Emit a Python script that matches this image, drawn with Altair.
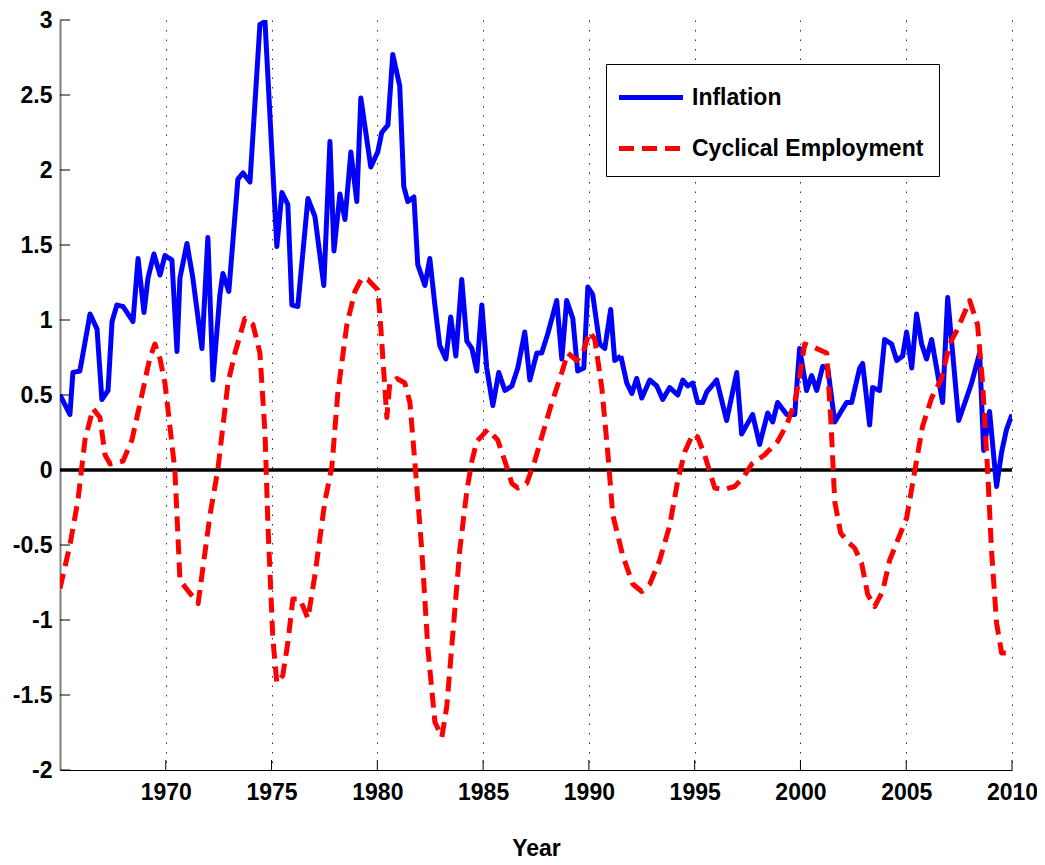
import altair as alt
import pandas as pd

# ---------------- data ----------------
series_names = ["Inflation", "Cyclical Employment"]

infl_years = [1965.00, 1965.47, 1965.61, 1965.94, 1966.42, 1966.75, 1966.98, 1967.27, 1967.46, 1967.69,
              1967.98, 1968.45, 1968.69, 1968.97, 1969.16, 1969.44, 1969.73, 1969.96, 1970.29, 1970.53,
              1970.67, 1971.00, 1971.28, 1971.71, 1971.99, 1972.23, 1972.56, 1972.70, 1972.98, 1973.41,
              1973.65, 1973.98, 1974.45, 1974.69, 1975.25, 1975.49, 1975.77, 1975.96, 1976.24, 1976.72,
              1977.05, 1977.47, 1977.76, 1977.95, 1978.23, 1978.47, 1978.75, 1979.03, 1979.22, 1979.69,
              1980.02, 1980.21, 1980.50, 1980.73, 1981.06, 1981.25, 1981.44, 1981.73, 1981.91, 1982.25,
              1982.48, 1982.72, 1982.95, 1983.24, 1983.47, 1983.71, 1983.99, 1984.23, 1984.47, 1984.70,
              1984.94, 1985.17, 1985.46, 1985.74, 1986.03, 1986.36, 1986.64, 1986.97, 1987.21, 1987.54,
              1987.77, 1988.06, 1988.48, 1988.72, 1988.95, 1989.24, 1989.47, 1989.76, 1989.95, 1990.18,
              1990.51, 1990.75, 1991.03, 1991.22, 1991.51, 1991.79, 1992.03, 1992.26, 1992.50, 1992.88,
              1993.21, 1993.49, 1993.82, 1994.20, 1994.44, 1994.67, 1994.91, 1995.14, 1995.38, 1995.57,
              1996.04, 1996.51, 1996.99, 1997.22, 1997.74, 1998.07, 1998.45, 1998.69, 1998.92, 1999.35,
              1999.73, 1999.96, 2000.29, 2000.53, 2000.77, 2001.05, 2001.29, 2001.62, 2002.18, 2002.42,
              2002.80, 2002.94, 2003.27, 2003.41, 2003.74, 2003.98, 2004.31, 2004.55, 2004.83, 2005.02,
              2005.26, 2005.49, 2005.73, 2005.96, 2006.20, 2006.72, 2006.96, 2007.48, 2007.85, 2008.09,
              2008.47, 2008.66, 2008.94, 2009.27, 2009.51, 2009.74, 2010.00]
infl_vals = [0.50, 0.37, 0.65, 0.66, 1.04, 0.94, 0.47, 0.53, 0.99, 1.10,
             1.09, 0.99, 1.41, 1.05, 1.28, 1.44, 1.30, 1.43, 1.40, 0.79,
             1.28, 1.51, 1.28, 0.81, 1.55, 0.60, 1.17, 1.31, 1.19, 1.94,
             1.98, 1.92, 2.97, 2.99, 1.49, 1.85, 1.77, 1.10, 1.09, 1.81,
             1.69, 1.23, 2.19, 1.46, 1.84, 1.67, 2.12, 1.79, 2.48, 2.02,
             2.12, 2.25, 2.30, 2.77, 2.56, 1.89, 1.79, 1.82, 1.37, 1.23,
             1.41, 1.10, 0.83, 0.74, 1.02, 0.76, 1.27, 0.86, 0.81, 0.66,
             1.10, 0.68, 0.43, 0.65, 0.53, 0.56, 0.68, 0.92, 0.60, 0.78,
             0.78, 0.91, 1.13, 0.74, 1.13, 1.01, 0.66, 0.68, 1.22, 1.17,
             0.84, 0.81, 1.07, 0.73, 0.76, 0.58, 0.51, 0.61, 0.48, 0.60,
             0.56, 0.47, 0.55, 0.50, 0.60, 0.56, 0.58, 0.45, 0.45, 0.52,
             0.60, 0.33, 0.65, 0.24, 0.37, 0.17, 0.38, 0.32, 0.45, 0.37,
             0.37, 0.81, 0.53, 0.63, 0.53, 0.69, 0.68, 0.32, 0.45, 0.45,
             0.68, 0.71, 0.30, 0.55, 0.53, 0.87, 0.84, 0.73, 0.76, 0.92,
             0.68, 1.04, 0.84, 0.74, 0.87, 0.45, 1.15, 0.33, 0.48, 0.58,
             0.78, 0.13, 0.39, -0.11, 0.12, 0.27, 0.37]

emp_years = [1965.00, 1965.47, 1965.85, 1966.18, 1966.56, 1966.89, 1967.13, 1967.37, 1967.98, 1968.40,
             1968.87, 1969.25, 1969.49, 1969.73, 1969.96, 1970.43, 1970.67, 1970.91, 1971.53, 1972.09,
             1972.46, 1972.94, 1973.27, 1973.74, 1974.12, 1974.45, 1974.69, 1974.83, 1975.06, 1975.25,
             1975.53, 1975.77, 1976.01, 1976.34, 1976.72, 1977.05, 1977.52, 1977.85, 1978.13, 1978.56,
             1978.94, 1979.27, 1979.55, 1980.02, 1980.12, 1980.45, 1980.59, 1980.92, 1981.30, 1981.54,
             1981.77, 1982.10, 1982.39, 1982.72, 1983.05, 1983.28, 1983.57, 1983.90, 1984.23, 1984.47,
             1984.70, 1985.22, 1985.69, 1986.12, 1986.36, 1986.64, 1987.06, 1987.44, 1987.77, 1988.25,
             1988.72, 1989.00, 1989.43, 1989.71, 1990.04, 1990.28, 1990.61, 1990.89, 1991.13, 1991.60,
             1992.07, 1992.50, 1992.88, 1993.35, 1993.82, 1994.20, 1994.53, 1994.91, 1995.14, 1995.47,
             1995.95, 1996.40, 1996.89, 1997.30, 1997.70, 1998.30, 1998.92, 1999.35, 1999.73, 1999.96,
             2000.20, 2000.60, 2001.24, 2001.45, 2001.62, 2001.90, 2002.25, 2002.56, 2002.89, 2003.18,
             2003.51, 2003.88, 2004.22, 2004.59, 2005.02, 2005.40, 2005.77, 2006.20, 2006.67, 2007.05,
             2007.43, 2008.00, 2008.37, 2008.61, 2008.85, 2009.03, 2009.27, 2009.51, 2009.89, 2010.00]
emp_vals = [-0.79, -0.50, -0.20, 0.20, 0.41, 0.35, 0.10, 0.04, 0.06, 0.20,
            0.50, 0.75, 0.84, 0.74, 0.58, 0.00, -0.73, -0.78, -0.89, -0.30,
            0.00, 0.58, 0.78, 1.01, 0.97, 0.78, 0.25, -0.37, -1.12, -1.42,
            -1.37, -1.15, -0.86, -0.86, -0.99, -0.70, -0.21, 0.02, 0.51, 0.97,
            1.19, 1.28, 1.27, 1.20, 1.04, 0.35, 0.58, 0.61, 0.58, 0.45,
            0.06, -0.53, -1.19, -1.68, -1.78, -1.58, -1.09, -0.53, -0.14, 0.06,
            0.19, 0.27, 0.20, 0.02, -0.09, -0.12, -0.09, 0.06, 0.22, 0.45,
            0.65, 0.78, 0.73, 0.78, 0.92, 0.87, 0.55, 0.12, -0.30, -0.57,
            -0.76, -0.81, -0.76, -0.60, -0.37, -0.07, 0.12, 0.24, 0.22, 0.10,
            -0.12, -0.13, -0.11, -0.05, 0.04, 0.10, 0.19, 0.30, 0.45, 0.62,
            0.84, 0.82, 0.78, 0.30, -0.21, -0.42, -0.48, -0.52, -0.62, -0.83,
            -0.91, -0.81, -0.60, -0.47, -0.32, -0.01, 0.29, 0.48, 0.61, 0.84,
            0.94, 1.13, 0.97, 0.58, -0.01, -0.53, -1.02, -1.22, -1.22, -1.20]

x_ticks = [1970, 1975, 1980, 1985, 1990, 1995, 2000, 2005, 2010]
y_ticks = [-2, -1.5, -1, -0.5, 0, 0.5, 1, 1.5, 2, 2.5, 3]
zero_level = [0]

# ---------------- tables ----------------
df = pd.concat([
    pd.DataFrame({"year": infl_years, "value": infl_vals, "series": series_names[0]}),
    pd.DataFrame({"year": emp_years, "value": emp_vals, "series": series_names[1]}),
], ignore_index=True)
xt_df = pd.DataFrame({"year": x_ticks})
yt_df = pd.DataFrame({"value": y_ticks})
zero_df = pd.DataFrame({"value": zero_level})

W, H = 952, 750
FONT = "Liberation Sans"

x_scale = alt.Scale(domain=[1965, 2010], nice=False, zero=False)
y_scale = alt.Scale(domain=[-2, 3], nice=False, zero=False)

x_axis = alt.Axis(values=x_ticks, format="d", title="Year", grid=True,
                  gridDash=[1.5, 8], gridColor="#333333", gridWidth=1, gridOpacity=1,
                  ticks=False, labelPadding=11, labelFlush=False, labelOverlap=False,
                  labelFont=FONT, labelFontWeight="bold", labelFontSize=23, labelColor="black",
                  domainColor="black", domainWidth=1,
                  titleFont=FONT, titleFontWeight="bold", titleFontSize=23, titleColor="black",
                  titlePadding=33)
y_axis = alt.Axis(values=y_ticks, labelExpr="'' + datum.value", title=None, grid=False,
                  ticks=False, labelPadding=8, labelFlush=False, labelOverlap=False,
                  labelFont=FONT, labelFontWeight="bold", labelFontSize=23, labelColor="black",
                  domainColor="#808080", domainWidth=2)

legend = alt.Legend(
    title=None, orient="none", legendX=546, legendY=44, direction="vertical",
    symbolType="M-2,0L2,0", symbolSize=1024, symbolStrokeWidth=5,
    symbolOffset=11.5, labelOffset=22.5,
    labelFont=FONT, labelFontWeight="bold", labelFontSize=23, labelColor="black",
    labelLimit=400, padding=15, rowPadding=20,
    strokeColor="black", fillColor="white", symbolFillColor="transparent",
)

zero_line = alt.Chart(zero_df).mark_rule(color="black", strokeWidth=3.5).encode(
    y=alt.Y("value:Q", scale=y_scale, axis=y_axis)
)

lines = alt.Chart(df).mark_line(strokeWidth=5, clip=True, strokeCap="butt", strokeJoin="round").encode(
    x=alt.X("year:Q", scale=x_scale, axis=x_axis),
    y=alt.Y("value:Q", scale=y_scale, axis=y_axis),
    color=alt.Color("series:N", scale=alt.Scale(domain=series_names, range=["#0000ff", "#ff0000"]),
                    legend=legend),
    strokeDash=alt.StrokeDash("series:N", scale=alt.Scale(domain=series_names, range=[[1, 0], [15, 8]]),
                              legend=legend),
)

xticks = alt.Chart(xt_df).mark_rule(color="black", strokeWidth=1).encode(
    x=alt.X("year:Q", scale=x_scale, axis=x_axis),
    y=alt.value(H), y2=alt.value(H - 10),
)
yticks = alt.Chart(yt_df).mark_rule(color="black", strokeWidth=1).encode(
    y=alt.Y("value:Q", scale=y_scale, axis=y_axis),
    x=alt.value(0), x2=alt.value(10),
)

chart = alt.layer(zero_line, lines, xticks, yticks).properties(
    width=W, height=H,
    autosize=alt.AutoSizeParams(type="none"),
    padding={"left": 52, "top": 12, "right": 25, "bottom": 89},
    background="white",
).configure_view(stroke=None)

chart.save("out.html", embed_options={"renderer": "svg", "actions": False})
